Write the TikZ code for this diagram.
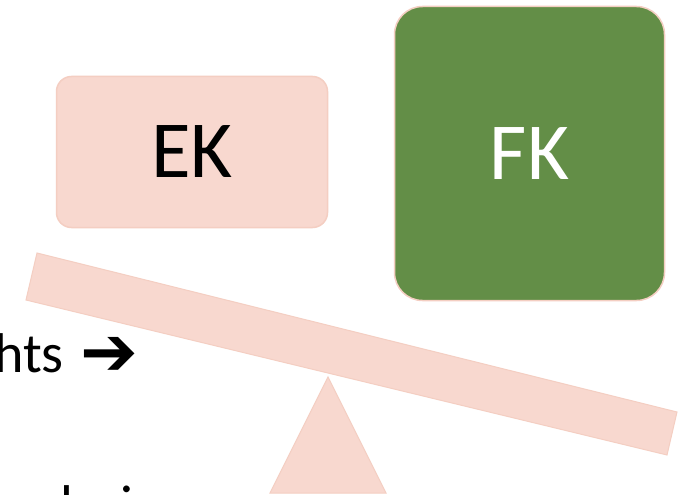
\documentclass[tikz,border=0pt]{standalone}
\usepackage{fontspec}
\setmainfont{Carlito}
\newfontfamily\symfont{DejaVu Sans}
\definecolor{pinkfill}{RGB}{248,216,207}
\definecolor{pinkedge}{RGB}{244,206,194}
\definecolor{fkgreen}{RGB}{99,142,71}
\tikzset{
  roundbox/.style={draw=pinkedge, line width=1.5pt, inner sep=0pt},
  bigtext/.style={font=\fontsize{81}{81}\selectfont},
  bodytext/.style={font=\fontsize{56}{60}\selectfont, inner sep=0pt},
  pinkshape/.style={draw=pinkedge, line width=1pt, fill=pinkfill}
}
\begin{document}
\begin{tikzpicture}[x=1pt,y=-1pt]
\useasboundingbox (0,0) rectangle (680,495);
\clip (0,0) rectangle (680,495);
\fill[white] (0,0) rectangle (680,495);
% seesaw beam
\path[pinkshape] (37,253) -- (677,412) -- (667,455) -- (26,300) -- cycle;
% fulcrum
\path[pinkshape] (328,377) -- (386,493) -- (270,493) -- cycle;
% boxes
\node[roundbox, bigtext, fill=pinkfill, minimum width=271pt, minimum height=151pt, rounded corners=15pt] (ek) at (192,152) {EK};
\node[roundbox, bigtext, fill=fkgreen, text=white, minimum width=270pt, minimum height=294pt, rounded corners=28pt] (fk) at (529.5,153.5) {FK};
% texts
\node[bodytext, anchor=base east] (w) at (64,372) {weights};
\node[inner sep=0pt, anchor=base west, font=\symfont\fontsize{69}{72}\selectfont] (arr) at (80,375) {➔};
\node[bodytext, anchor=base west] (bt) at (37,524) {clarion};
\end{tikzpicture}
\end{document}
